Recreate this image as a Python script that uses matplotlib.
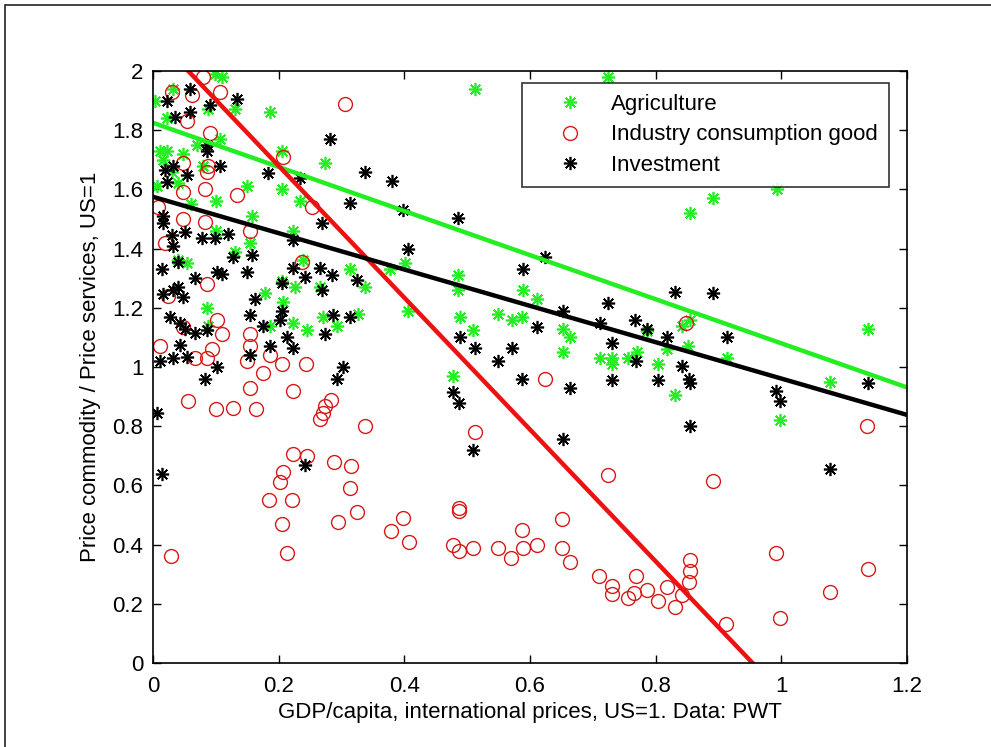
import matplotlib
matplotlib.use("Agg")
import matplotlib.pyplot as plt
from matplotlib.patches import Rectangle
from matplotlib.ticker import FuncFormatter
import numpy as np

plt.rcParams['font.family'] = ['Liberation Sans', 'DejaVu Sans']

# Agriculture / services relative price vs GDP per capita
agri_x = [0.003, 0.032, 0.099, 0.11, 0.088, 0.186, 0.022, 0.107, 0.022, 0.048,
          0.205, 0.274, 0.149, 0.205, 0.234, 0.10, 0.157, 0.155, 0.054, 0.13,
          0.223, 0.10, 0.239, 0.314, 0.337, 0.178, 0.205, 0.226, 0.266, 0.207,
          0.086, 0.223, 0.245, 0.271, 0.293, 0.327, 0.186, 0.088, 0.04, 0.377,
          0.401, 0.406, 0.016, 0.011, 0.03, 0.006, 0.512, 0.724, 0.891, 0.855,
          0.993, 0.486, 0.486, 0.589, 0.611, 0.489, 0.51, 0.549, 0.571, 0.587,
          0.653, 0.664, 0.653, 0.711, 0.731, 0.731, 0.756, 0.77, 0.786, 0.804,
          0.818, 0.842, 0.855, 0.852, 0.913, 1.138, 1.078, 0.478, 0.831, 0.998,
          0.06, 0.07, 0.08, 0.04, 0.13]
agri_y = [1.90, 1.94, 1.99, 1.98, 1.87, 1.86, 1.84, 1.77, 1.73, 1.72,
          1.73, 1.69, 1.61, 1.60, 1.56, 1.56, 1.51, 1.42, 1.35, 1.39,
          1.46, 1.46, 1.36, 1.33, 1.27, 1.25, 1.29, 1.27, 1.27, 1.22,
          1.20, 1.15, 1.125, 1.17, 1.14, 1.18, 1.14, 1.14, 1.36, 1.33,
          1.35, 1.19, 1.70, 1.73, 1.66, 1.61, 1.94, 1.98, 1.57, 1.52,
          1.60, 1.31, 1.26, 1.26, 1.23, 1.17, 1.125, 1.18, 1.16, 1.17,
          1.13, 1.10, 1.05, 1.03, 1.03, 1.01, 1.03, 1.05, 1.12, 1.01,
          1.06, 1.14, 1.16, 1.07, 1.03, 1.13, 0.95, 0.97, 0.905, 0.82,
          1.55, 1.75, 1.68, 1.62, 1.87]

# Industry consumption good / services
ind_x = [0.03, 0.062, 0.107, 0.08, 0.306, 0.054, 0.091, 0.048, 0.088, 0.086,
         0.207, 0.048, 0.083, 0.134, 0.253, 0.008, 0.048, 0.083, 0.154, 0.019,
         0.237, 0.086, 0.024, 0.048, 0.102, 0.11, 0.011, 0.067, 0.086, 0.094,
         0.15, 0.154, 0.154, 0.186, 0.205, 0.244, 0.175, 0.154, 0.223, 0.056,
         0.10, 0.127, 0.164, 0.266, 0.271, 0.274, 0.283, 0.337, 0.223, 0.245,
         0.207, 0.202, 0.185, 0.221, 0.205, 0.213, 0.029, 0.288, 0.315, 0.314,
         0.325, 0.294, 0.398, 0.379, 0.407, 0.487, 0.487, 0.478, 0.487, 0.51,
         0.549, 0.57, 0.587, 0.589, 0.611, 0.651, 0.651, 0.664, 0.624, 0.512,
         0.724, 0.891, 0.71, 0.731, 0.731, 0.756, 0.766, 0.769, 0.786, 0.804,
         0.818, 0.831, 0.842, 0.853, 0.855, 0.855, 0.912, 0.992, 0.998, 1.078,
         1.136, 1.138, 0.849]
ind_y = [1.93, 1.92, 1.93, 1.98, 1.89, 1.83, 1.79, 1.69, 1.68, 1.66,
         1.71, 1.59, 1.60, 1.58, 1.54, 1.54, 1.50, 1.49, 1.46, 1.42,
         1.355, 1.28, 1.24, 1.135, 1.16, 1.11, 1.07, 1.03, 1.03, 1.06,
         1.02, 1.07, 1.11, 1.04, 1.01, 1.01, 0.98, 0.93, 0.92, 0.885,
         0.858, 0.86, 0.858, 0.824, 0.845, 0.868, 0.89, 0.80, 0.705, 0.70,
         0.645, 0.61, 0.55, 0.55, 0.47, 0.37, 0.36, 0.68, 0.665, 0.59,
         0.51, 0.475, 0.49, 0.445, 0.41, 0.525, 0.515, 0.40, 0.38, 0.39,
         0.39, 0.355, 0.45, 0.39, 0.40, 0.485, 0.39, 0.34, 0.96, 0.78,
         0.635, 0.615, 0.295, 0.26, 0.233, 0.22, 0.237, 0.295, 0.247, 0.21,
         0.257, 0.19, 0.23, 0.274, 0.31, 0.348, 0.132, 0.37, 0.152, 0.24,
         0.80, 0.317, 1.15]

# Investment / services
inv_x = [0.059, 0.022, 0.134, 0.091, 0.059, 0.035, 0.282, 0.086, 0.086, 0.107,
         0.019, 0.032, 0.054, 0.022, 0.183, 0.234, 0.337, 0.38, 0.314, 0.398,
         0.486, 0.269, 0.223, 0.406, 0.016, 0.016, 0.03, 0.051, 0.078, 0.099,
         0.12, 0.032, 0.04, 0.014, 0.067, 0.102, 0.11, 0.127, 0.15, 0.157,
         0.205, 0.223, 0.242, 0.266, 0.285, 0.325, 0.162, 0.205, 0.154, 0.175,
         0.202, 0.213, 0.223, 0.186, 0.154, 0.102, 0.274, 0.287, 0.314, 0.269,
         0.027, 0.043, 0.051, 0.067, 0.086, 0.032, 0.016, 0.04, 0.048, 0.011,
         0.032, 0.054, 0.043, 0.083, 0.293, 0.302, 0.006, 0.014, 0.242, 0.624,
         0.589, 0.831, 0.891, 0.724, 0.653, 0.767, 0.611, 0.489, 0.512, 0.571,
         0.549, 0.711, 0.786, 0.818, 0.913, 0.731, 0.769, 0.842, 0.587, 0.664,
         0.478, 0.487, 0.51, 0.653, 0.731, 0.804, 0.853, 0.855, 0.855, 0.992,
         0.998, 1.078, 1.138]
inv_y = [1.94, 1.90, 1.905, 1.885, 1.86, 1.845, 1.77, 1.75, 1.73, 1.68,
         1.665, 1.68, 1.65, 1.625, 1.655, 1.64, 1.66, 1.63, 1.555, 1.53,
         1.505, 1.485, 1.43, 1.40, 1.51, 1.485, 1.445, 1.455, 1.435, 1.435,
         1.45, 1.41, 1.355, 1.33, 1.30, 1.32, 1.315, 1.37, 1.32, 1.38,
         1.285, 1.335, 1.305, 1.335, 1.31, 1.295, 1.23, 1.19, 1.175, 1.14,
         1.16, 1.10, 1.065, 1.07, 1.04, 1.00, 1.11, 1.175, 1.17, 1.26,
         1.17, 1.15, 1.13, 1.115, 1.125, 1.26, 1.245, 1.27, 1.235, 1.02,
         1.03, 1.035, 1.075, 0.96, 0.96, 1.00, 0.845, 0.64, 0.67, 1.37,
         1.33, 1.255, 1.25, 1.215, 1.19, 1.16, 1.135, 1.10, 1.065, 1.065,
         1.02, 1.15, 1.13, 1.10, 1.10, 1.08, 1.02, 1.005, 0.96, 0.93,
         0.915, 0.88, 0.72, 0.757, 0.955, 0.955, 0.96, 0.945, 0.80, 0.92,
         0.885, 0.655, 0.945]

# fitted lines: (intercept, slope)
agri_fit = (1.825, -0.745)
ind_fit = (2.125, -2.227)
inv_fit = (1.575, -0.614)

labels = ['Agriculture', 'Industry consumption good', 'Investment']
green = '#22ee22'
red = '#d81818'
star = (8, 2, 0)
fs = 16

fig = plt.figure(figsize=(9.91, 7.47), dpi=100)
fig.add_artist(Rectangle((5 / 991, -0.1), 1.2, 1 - 5 / 747 + 0.1, transform=fig.transFigure,
                         fill=False, edgecolor='#222222', linewidth=1.2))
ax = fig.add_axes([153 / 991, 1 - 663 / 747, 754 / 991, 592 / 747])

ax.plot(agri_x, agri_y, linestyle='none', marker=star, markersize=9.5, mec=green, mew=1.2,
        label=labels[0])
ax.plot(ind_x, ind_y, linestyle='none', marker='o', markersize=10, mfc='none', mec=red, mew=1.0,
        label=labels[1])
ax.plot(inv_x, inv_y, linestyle='none', marker=star, markersize=9.5, mec='black', mew=1.2,
        label=labels[2])

xs = np.array([0.0, 1.2])
ax.plot(xs, agri_fit[0] + agri_fit[1] * xs, color=green, linewidth=3.2)
ax.plot(xs, ind_fit[0] + ind_fit[1] * xs, color='#ee1111', linewidth=3.2)
ax.plot(xs, inv_fit[0] + inv_fit[1] * xs, color='black', linewidth=3.2)

ax.set_xlim(0, 1.2)
ax.set_ylim(0, 2)
ax.set_xticks(np.arange(0, 1.21, 0.2))
ax.set_yticks(np.arange(0, 2.01, 0.2))
fmt = FuncFormatter(lambda v, p: f"{round(v, 1):g}")
ax.xaxis.set_major_formatter(fmt)
ax.yaxis.set_major_formatter(fmt)
ax.tick_params(direction='in', length=6, width=1, top=True, right=True, labelsize=fs)
ax.tick_params(axis='x', pad=9)
ax.tick_params(axis='y', pad=7)
for s in ax.spines.values():
    s.set_linewidth(1.2)

ax.set_xlabel('GDP/capita, international prices, US=1. Data: PWT', fontsize=fs, labelpad=4)
ax.set_ylabel('Price commodity / Price services, US=1', fontsize=fs, labelpad=8)

leg = ax.legend(loc='upper right', bbox_to_anchor=(0.976, 0.98), borderaxespad=0,
                fontsize=fs, frameon=True, fancybox=False, edgecolor='black',
                handlelength=3.3, handletextpad=0.2, labelspacing=0.42, borderpad=0.5)
leg.get_frame().set_linewidth(1.2)

fig.savefig('out.png', dpi=100)
